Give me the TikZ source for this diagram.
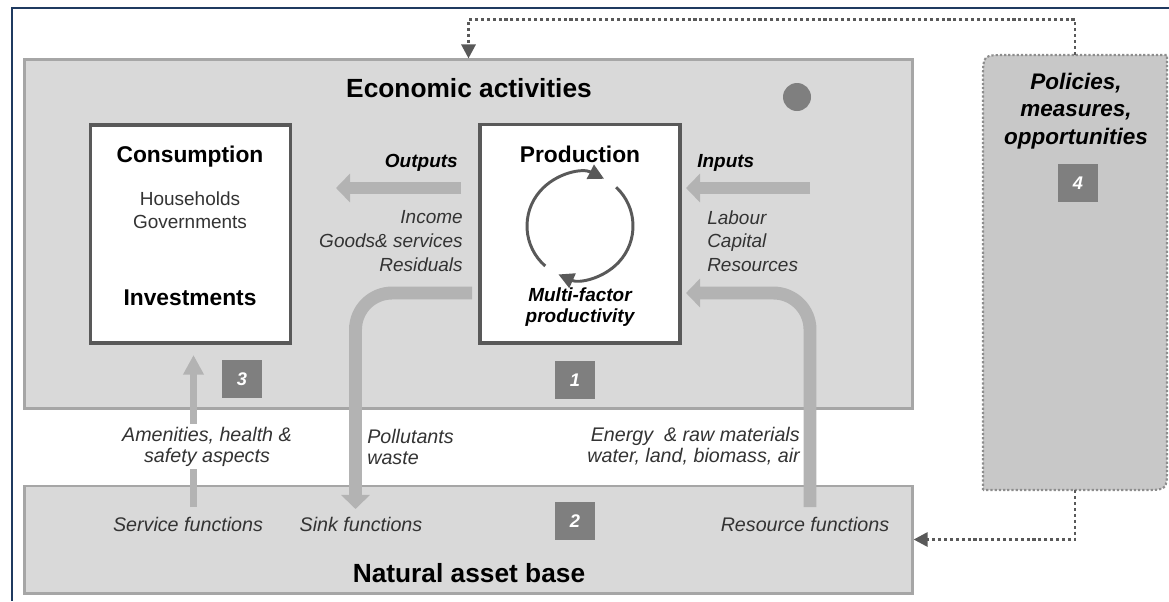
\documentclass[tikz,border=0pt]{standalone}
\usepackage{fontspec}
\setmainfont{Liberation Sans}
\usetikzlibrary{arrows.meta}

\definecolor{boxgray}{HTML}{D9D9D9}
\definecolor{edgegray}{HTML}{A6A6A6}
\definecolor{pipegray}{HTML}{B3B3B3}
\definecolor{numgray}{HTML}{7F7F7F}
\definecolor{darkgray}{HTML}{595959}
\definecolor{labelgray}{HTML}{333333}
\definecolor{policygray}{HTML}{C8C8C8}
\definecolor{frameblue}{HTML}{1F3A60}

\begin{document}
\begin{tikzpicture}[x=0.025cm,y=-0.025cm]
    \tikzstyle{every node}+=[inner sep=0pt]
    \tikzstyle{area}=[draw=edgegray, fill=boxgray, line width=2.1pt, minimum width=22.175cm]
    \tikzstyle{sector}=[draw=darkgray, fill=white, line width=2.8pt, minimum width=5cm, minimum height=5.45cm]
    \tikzstyle{numbox}=[fill=numgray, text=white, minimum width=1cm, minimum height=0.95cm, font=\fontsize{13}{15}\selectfont\bfseries\itshape]
    \tikzstyle{bigtitle}=[font=\fontsize{18.7}{22}\selectfont\bfseries]
    \tikzstyle{boxtitle}=[font=\fontsize{16.2}{19}\selectfont\bfseries]
    \tikzstyle{subtext}=[text=labelgray, font=\fontsize{13.5}{16.5}\selectfont]
    \tikzstyle{flowhead}=[font=\fontsize{13.5}{16.5}\selectfont\bfseries\itshape]
    \tikzstyle{flowlabel}=[text=labelgray, font=\fontsize{13.5}{16.8}\selectfont\itshape]
    \tikzstyle{lowlabel}=[text=labelgray, font=\fontsize{14}{15}\selectfont\itshape]
    \tikzstyle{pipe}=[draw=pipegray, line width=9.2pt, -{Triangle[width=20pt,length=10pt]}]
    \tikzstyle{thinpipe}=[draw=pipegray, line width=5pt, -{Triangle[width=14pt,length=14pt]}]
    \tikzstyle{turn}=[draw=darkgray, line width=2.1pt, -{Triangle[width=11pt,length=11pt]}]
    \tikzstyle{dotline}=[draw=darkgray, line width=2.1pt, dash pattern=on 2.2pt off 2pt, -{Triangle[width=10pt,length=10pt]}]
    \useasboundingbox (0,0) rectangle (1169,601);
    % slide frame
    \draw [frameblue, line width=1.8pt] (1169,8) -- (12,8) -- (12,601);
    % main areas
    \node [area, minimum height=8.7cm] (econ) at (468.5,234) {};
    \node [area, minimum height=2.675cm] (nature) at (468.5,539.5) {};
    \node [bigtitle] (econtitle) at (469,88) {Economic activities};
    \node [bigtitle] (naturetitle) at (469,573) {Natural asset base};
    \node [circle, fill=numgray, minimum size=0.7cm] (dot) at (797,97) {};
    % policies
    \filldraw [fill=policygray, draw=edgegray!85!black, line width=1.5pt, dash pattern=on 1.6pt off 1.4pt]
        (983,490) -- (983,78) .. controls (983,55) .. (1006,55) -- (1167,55) -- (1167,467)
        .. controls (1167,490) .. (1144,490) -- cycle;
    \node [minimum width=4.6cm, minimum height=10.875cm] (policy) at (1075,272.5) {};
    \node [align=center, font=\fontsize{16}{19.6}\selectfont\bfseries\itshape] (policytxt) at (1076,111)
        {Policies,\\measures,\\opportunities};
    \node [numbox] (n4) at (1078,183) {4};
    % sectors
    \node [sector] (consum) at (190.5,234) {};
    \node [sector] (prod) at (580,233.5) {};
    \node [boxtitle] (consumtxt) at (190,157) {Consumption};
    \node [subtext, align=center] (agents) at (190,210.5) {Households\\Governments};
    \node [boxtitle] (invest) at (190,298) {Investments};
    \node [boxtitle] (prodtxt) at (580,154) {Production};
    \node [flowhead, align=center, font=\fontsize{13.5}{15}\selectfont\bfseries\itshape] (mfp) at (580,307.5)
        {Multi-factor\\productivity};
    \coordinate (rc) at (580,226);
    \draw [turn] (rc) ++(-229:53) arc [start angle=-229, end angle=-63, radius=53];
    \draw [turn] (rc) ++(-47:53) arc [start angle=-47, end angle=114, radius=53];
    % flows
    \coordinate (outstart) at (461,188);
    \coordinate (outend) at (336,188);
    \coordinate (instart) at (810,188);
    \coordinate (inend) at (686,188);
    \coordinate (sinkstart) at (472,293);
    \coordinate (sinkend) at (355.5,509);
    \coordinate (resstart) at (810,507);
    \coordinate (resend) at (686,293);
    \coordinate (servstart) at (193.5,507);
    \coordinate (servend) at (193.5,355);
    \draw [pipe] (outstart) -- (outend);
    \draw [pipe] (instart) -- (inend);
    \draw [pipe, rounded corners=26pt] (sinkstart) -| (sinkend);
    \draw [pipe, rounded corners=26pt] (resstart) |- (resend);
    \draw [thinpipe] (servstart) -- (servend);
    \node [flowhead, anchor=east] (outtxt) at (458,163) {Outputs};
    \node [flowhead, anchor=west] (intxt) at (697,163) {Inputs};
    \node [flowlabel, anchor=east, align=right] (outlist) at (463,241) {Income\\Goods\& services\\Residuals};
    \node [flowlabel, anchor=west, align=left] (inlist) at (707,241) {Labour\\Capital\\Resources};
    \node [lowlabel, align=center, fill=white, inner sep=2pt] (amen) at (207,446.5) {Amenities, health \&\\safety aspects};
    \node [lowlabel, anchor=west, align=left] (poll) at (367,446.5) {Pollutants\\waste};
    \node [lowlabel, anchor=east, align=right] (energy) at (800,446.5) {Energy~ \& raw materials\\water, land, biomass, air};
    \node [lowlabel] (service) at (188,524) {Service functions};
    \node [lowlabel] (sink) at (361,524) {Sink functions};
    \node [lowlabel] (resource) at (805,524) {Resource functions};
    % numbers
    \node [numbox] (n3) at (242,379) {3};
    \node [numbox] (n1) at (575,380) {1};
    \node [numbox] (n2) at (575,521) {2};
    % feedback
    \draw [dotline] (policy.north) -- ++(0,-35) -| (econ.north);
    \draw [dotline] (policy.south) |- (nature.east);
\end{tikzpicture}
\end{document}
